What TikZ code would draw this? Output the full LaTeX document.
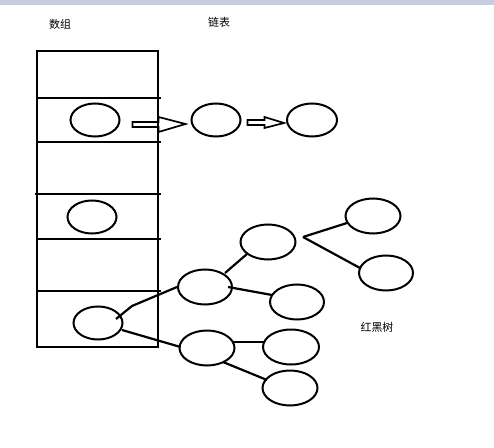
\documentclass[tikz,border=0pt]{standalone}
\usepackage{fontspec}
\newfontfamily\cjk{Noto Sans CJK SC}
\usetikzlibrary{shapes.geometric,calc}
\definecolor{barcol}{RGB}{197,205,222}
\begin{document}
\begin{tikzpicture}[x=1bp,y=-1bp,
  ell/.style={draw,line width=2bp,ellipse,minimum width=#1,minimum height=33bp,inner sep=0pt},
  ell/.default=49bp,
  tell/.style={ell=55bp,minimum height=35bp},
  edge/.style={line width=2.2bp},
  frame/.style={line width=2.2bp},
  lab/.style={font=\cjk\fontsize{11}{13}\selectfont,inner sep=0pt},
  blk/.style={line width=1.7bp,line join=miter}]
\useasboundingbox (0,0) rectangle (494,448);
\fill[barcol] (0,0) rectangle (494,5);
% labels
\node[lab] (larr) at (60,24) {数组};
\node[lab] (llist) at (219,22) {链表};
\node[lab] (ltree) at (377,327) {红黑树};
% array
\draw[frame] (37,51) rectangle (158,347);
\draw[frame] (36,98) -- (161,98);
\draw[frame] (36,142) -- (161,142);
\draw[frame] (35,194) -- (161,194);
\draw[frame] (36,239) -- (161,239);
\draw[frame] (36,291) -- (161,291);
% array ellipses
\node[ell] (a1) at (95,120) {};
\node[ell] (a2) at (92,217) {};
\node[ell] (a3) at (98,323) {};
% linked list
\node[ell] (l1) at (216,120) {};
\node[ell=50bp] (l2) at (312,120) {};
% block arrows
\draw[blk] ($(a1.east)+(12,2)$) -- ++(26,0) -- ++(0,-5) -- ($(l1.west)+(-5,4)$) -- ($(a1.east)+(38,12)$) -- ++(0,-5) -- ++(-26,0) -- cycle;
\draw[blk] ($(l1.east)+(6,0)$) -- ++(17,0) -- ++(0,-3) -- ($(l2.west)+(-2,3)$) -- ($(l1.east)+(23,8)$) -- ++(0,-3) -- ++(-17,0) -- cycle;
% tree
\node[tell,minimum width=54bp] (A) at (205,287) {};
\node[tell] (B) at (268,242) {};
\node[tell] (C) at (373,216) {};
\node[tell,minimum width=54bp] (D) at (386,273) {};
\node[tell,minimum width=54bp] (E) at (297,302) {};
\node[tell] (F) at (207,348) {};
\node[tell,minimum width=56bp] (G) at (291,347) {};
\node[tell] (H) at (290,388) {};
\coordinate (k1) at (132,306);
\coordinate (bj) at (303,237);
\draw[edge] ($(a3.center)+(18,-4)$) -- (k1) -- (A.west);
\draw[edge] ($(a3.center)+(24,7)$) -- ($(F.west)+(2,-1)$);
\draw[edge] ($(A.center)+(20,-14)$) -- ($(B.center)+(-21,12)$);
\draw[edge] ($(A.center)+(23,0)$) -- ($(E.west)+(3,-7)$);
\draw[edge] (bj) -- ($(C.center)+(-26,7)$);
\draw[edge] (bj) -- ($(D.center)+(-26,-5)$);
\draw[edge] ($(F.center)+(26,-6)$) -- ($(G.west)+(2,-5)$);
\draw[edge] ($(F.center)+(16,14)$) -- ($(H.center)+(-23,-8)$);
\end{tikzpicture}
\end{document}
